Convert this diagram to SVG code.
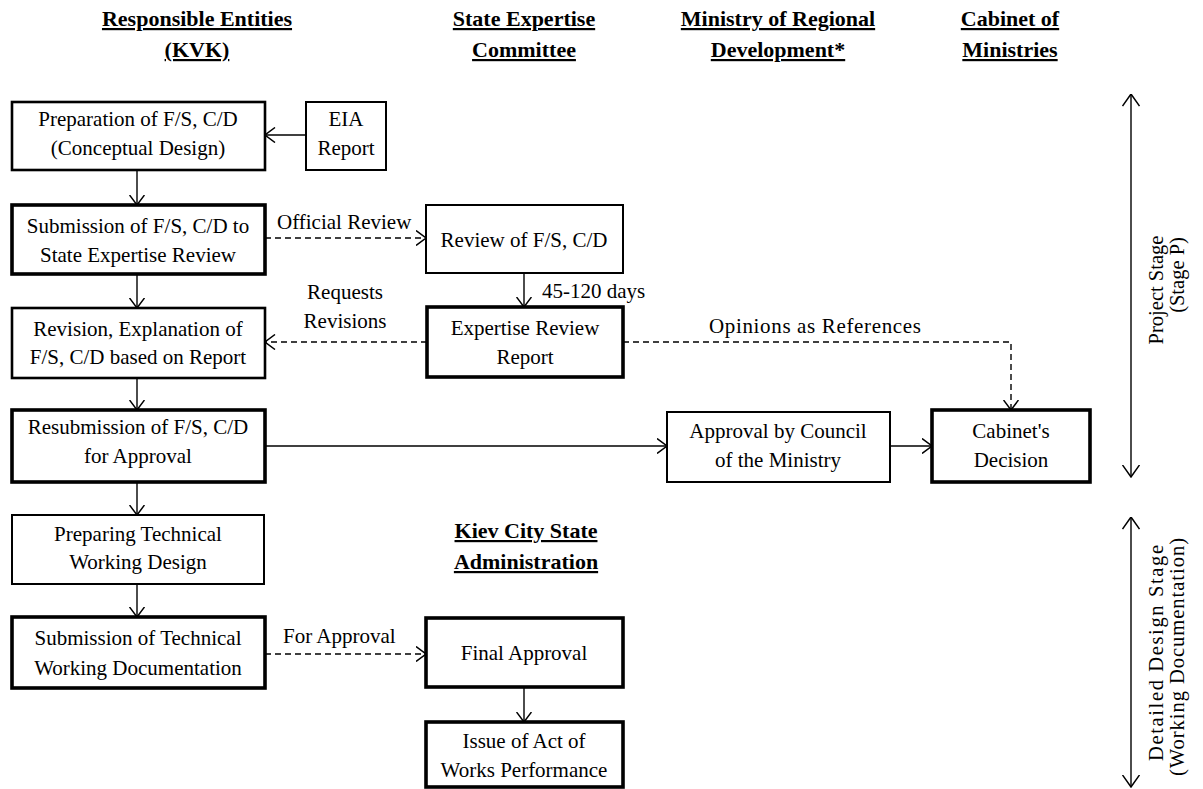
<svg xmlns="http://www.w3.org/2000/svg" width="1203" height="789" viewBox="0 0 1203 789">
  <style>
    text { font-family: "Liberation Serif", "Times New Roman", serif; fill: #000; }
    .hdr { font-size: 22px; font-weight: bold; text-anchor: middle; text-decoration: underline; }
    .lbl { font-size: 21px; text-anchor: middle; }
    .edge { font-size: 21px; }
    .stage { font-size: 20.5px; text-anchor: middle; }
    .box { fill: #fff; stroke: #000; stroke-width: 2; }
    .box.mid { stroke-width: 2.6; }
    .box.bold { stroke-width: 3.6; }
    .conn { fill: none; stroke: #000; stroke-width: 1.4; }
    .dash { stroke-dasharray: 6 4; }
  </style>
  <defs>
    <marker id="arrow" viewBox="0 0 11 16" refX="10.5" refY="8" markerWidth="11" markerHeight="16" markerUnits="userSpaceOnUse" orient="auto">
      <path d="M0.5,0.5 L10.5,8 L0.5,15.5" fill="none" stroke="#000" stroke-width="1.5" stroke-dasharray="none"/>
    </marker>
    <marker id="stageArrow" viewBox="0 0 13 18" refX="12.5" refY="9" markerWidth="13" markerHeight="18" markerUnits="userSpaceOnUse" orient="auto-start-reverse">
      <path d="M0.5,0.5 L12.5,9 L0.5,17.5" fill="none" stroke="#000" stroke-width="1.5"/>
    </marker>
  </defs>

  <!-- column headers -->
  <g id="headers">
    <text class="hdr" x="197" y="26">Responsible Entities</text>
    <text class="hdr" x="197" y="57">(KVK)</text>
    <text class="hdr" x="524" y="26">State Expertise</text>
    <text class="hdr" x="524" y="57">Committee</text>
    <text class="hdr" x="778" y="26">Ministry of Regional</text>
    <text class="hdr" x="778" y="57">Development*</text>
    <text class="hdr" x="1010" y="26">Cabinet of</text>
    <text class="hdr" x="1010" y="57">Ministries</text>
    <text class="hdr" x="526" y="538">Kiev City State</text>
    <text class="hdr" x="526" y="569">Administration</text>
  </g>

  <!-- connectors -->
  <g id="connectors">
    <path class="conn" d="M306,135 H265" marker-end="url(#arrow)"/>
    <path class="conn" d="M137,170 V205" marker-end="url(#arrow)"/>
    <path class="conn" d="M137,274 V308" marker-end="url(#arrow)"/>
    <path class="conn" d="M137,378 V410" marker-end="url(#arrow)"/>
    <path class="conn" d="M137,482 V515" marker-end="url(#arrow)"/>
    <path class="conn" d="M137,584 V617" marker-end="url(#arrow)"/>
    <path class="conn dash" d="M265,238 H426" marker-end="url(#arrow)"/>
    <path class="conn" d="M524,273 V307" marker-end="url(#arrow)"/>
    <path class="conn dash" d="M427,342 H265" marker-end="url(#arrow)"/>
    <path class="conn dash" d="M623,342 H1011 V410" marker-end="url(#arrow)"/>
    <path class="conn" d="M265,446 H667" marker-end="url(#arrow)"/>
    <path class="conn" d="M890,446 H932" marker-end="url(#arrow)"/>
    <path class="conn dash" d="M265,654 H426" marker-end="url(#arrow)"/>
    <path class="conn" d="M524,687 V722" marker-end="url(#arrow)"/>

    <text class="edge" x="277" y="229">Official Review</text>
    <text class="edge" x="542" y="298">45-120 days</text>
    <text class="lbl" x="345" y="299">Requests</text>
    <text class="lbl" x="345" y="328">Revisions</text>
    <text class="edge" x="709" y="333" textLength="212" lengthAdjust="spacing">Opinions as References</text>
    <text class="edge" x="283" y="643">For Approval</text>
  </g>

  <!-- nodes: responsible entities column -->
  <g id="prep-fs">
    <rect class="box mid" x="12" y="102" width="253" height="68"/>
    <text class="lbl" x="138" y="126">Preparation of F/S, C/D</text>
    <text class="lbl" x="138" y="155">(Conceptual Design)</text>
  </g>
  <g id="eia-report">
    <rect class="box" x="306" y="102" width="80" height="68"/>
    <text class="lbl" x="346" y="126">EIA</text>
    <text class="lbl" x="346" y="155">Report</text>
  </g>
  <g id="submission-fs">
    <rect class="box bold" x="12" y="205" width="253" height="69"/>
    <text class="lbl" x="138" y="233">Submission of F/S, C/D to</text>
    <text class="lbl" x="138" y="262">State Expertise Review</text>
  </g>
  <g id="revision-fs">
    <rect class="box mid" x="12" y="308" width="253" height="70"/>
    <text class="lbl" x="138" y="336">Revision, Explanation of</text>
    <text class="lbl" x="138" y="364">F/S, C/D based on Report</text>
  </g>
  <g id="resubmission-fs">
    <rect class="box bold" x="12" y="410" width="253" height="72"/>
    <text class="lbl" x="138" y="434">Resubmission of F/S, C/D</text>
    <text class="lbl" x="138" y="463">for Approval</text>
  </g>
  <g id="prep-technical">
    <rect class="box" x="12" y="515" width="252" height="69"/>
    <text class="lbl" x="138" y="541">Preparing Technical</text>
    <text class="lbl" x="138" y="569">Working Design</text>
  </g>
  <g id="submission-technical">
    <rect class="box bold" x="12" y="617" width="253" height="71"/>
    <text class="lbl" x="138" y="645">Submission of Technical</text>
    <text class="lbl" x="138" y="675">Working Documentation</text>
  </g>

  <!-- nodes: state expertise committee -->
  <g id="review-fs">
    <rect class="box" x="426" y="205" width="197" height="68"/>
    <text class="lbl" x="524" y="247">Review of F/S, C/D</text>
  </g>
  <g id="expertise-report">
    <rect class="box bold" x="427" y="307" width="196" height="70"/>
    <text class="lbl" x="525" y="335">Expertise Review</text>
    <text class="lbl" x="525" y="364">Report</text>
  </g>

  <!-- nodes: ministry and cabinet -->
  <g id="council-approval">
    <rect class="box" x="667" y="412" width="223" height="70"/>
    <text class="lbl" x="778" y="438">Approval by Council</text>
    <text class="lbl" x="778" y="467">of the Ministry</text>
  </g>
  <g id="cabinet-decision">
    <rect class="box bold" x="932" y="410" width="158" height="72"/>
    <text class="lbl" x="1011" y="438">Cabinet's</text>
    <text class="lbl" x="1011" y="467">Decision</text>
  </g>

  <!-- nodes: Kiev city state administration -->
  <g id="final-approval">
    <rect class="box bold" x="426" y="618" width="197" height="69"/>
    <text class="lbl" x="524" y="660">Final Approval</text>
  </g>
  <g id="act-issue">
    <rect class="box bold" x="426" y="722" width="197" height="65"/>
    <text class="lbl" x="524" y="748">Issue of Act of</text>
    <text class="lbl" x="524" y="777">Works Performance</text>
  </g>

  <!-- stage ranges -->
  <g id="stage-project">
    <path class="conn" d="M1131,94 V477" marker-start="url(#stageArrow)" marker-end="url(#stageArrow)"/>
    <text class="stage" transform="translate(1163,290) rotate(-90)">Project Stage</text>
    <text class="stage" transform="translate(1184,275) rotate(-90)">(Stage P)</text>
  </g>
  <g id="stage-detailed">
    <path class="conn" d="M1131,517 V787" marker-start="url(#stageArrow)" marker-end="url(#stageArrow)"/>
    <text class="stage" transform="translate(1163,653) rotate(-90)" textLength="216" lengthAdjust="spacing">Detailed Design Stage</text>
    <text class="stage" transform="translate(1184,657) rotate(-90)" textLength="238" lengthAdjust="spacing">(Working Documentation)</text>
  </g>
</svg>
